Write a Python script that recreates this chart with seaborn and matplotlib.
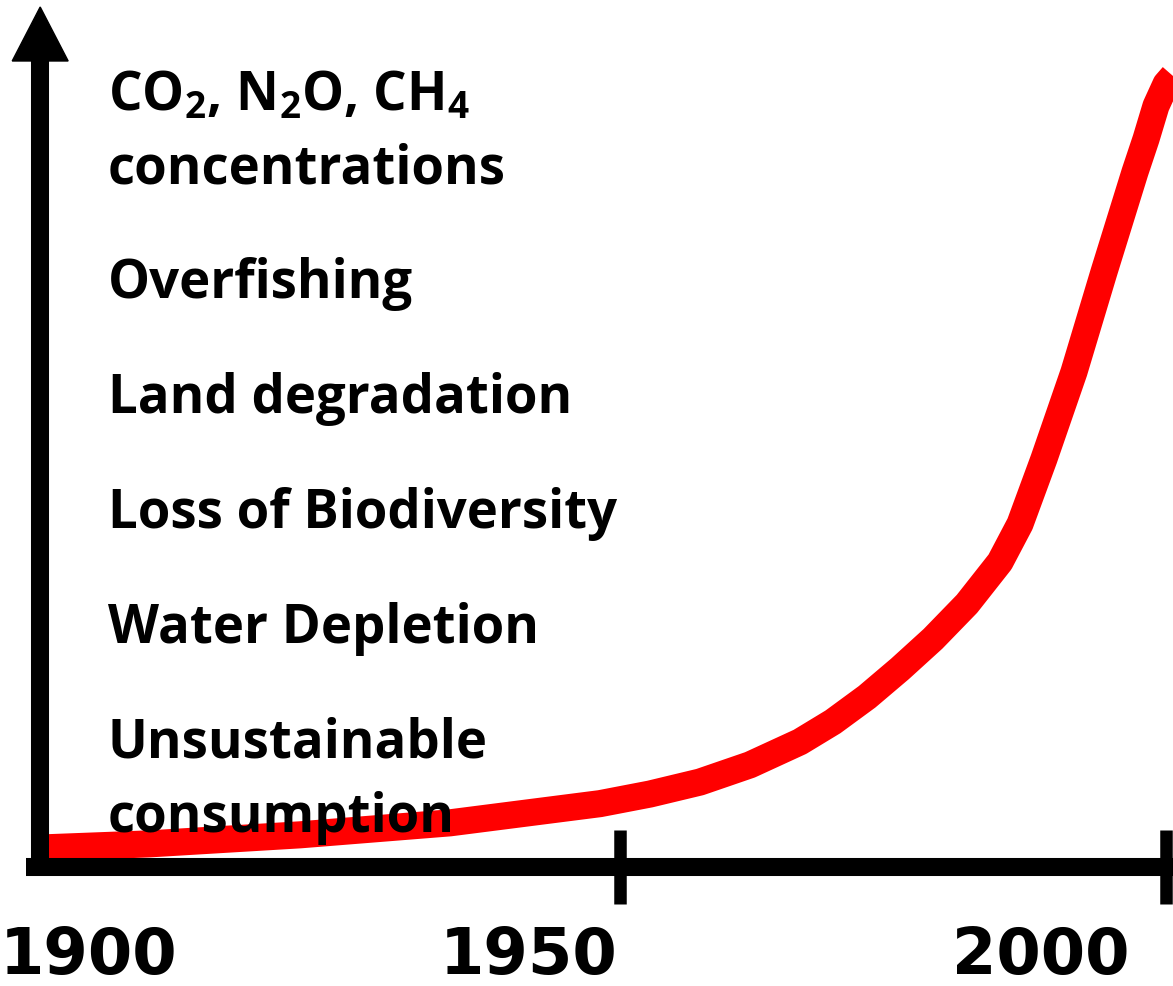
import matplotlib
matplotlib.use("Agg")
import matplotlib.pyplot as plt
import seaborn as sns
import pandas as pd
from matplotlib.patches import Polygon

# schematic "great acceleration" curve (index, x-axis sits at 0)
years = [1897.34, 1906.96, 1920.69, 1934.43, 1948.17, 1952.74, 1957.32, 1961.90,
         1966.48, 1969.50, 1972.62, 1975.64, 1978.66, 1981.77, 1984.80, 1986.63,
         1988.82, 1991.57, 1994.32, 1997.16, 1998.17, 1999.08, 2000.0, 2000.64]
index = [2.375, 2.875, 4.0, 5.5, 7.9, 9.1, 10.6, 12.75,
         15.625, 18.125, 21.25, 24.75, 28.5, 32.875, 38.125, 42.875,
         51.0, 61.875, 74.375, 86.875, 91.0, 95.125, 97.875, 98.875]

tick_years = [1950, 2000]
year_labels = ["1900", "1950", "2000"]
year_label_x = [1901.3, 1941.6, 1988.5]

pressures = [r"CO$_\mathbf{2}$, N$_\mathbf{2}$O, CH$_\mathbf{4}$", "concentrations",
             "Overfishing", "Land degradation", "Loss of Biodiversity",
             "Water Depletion", "Unsustainable", "consumption"]
pressure_y = [94.75, 85.6, 71.25, 56.9, 42.5, 28.1, 13.75, 4.5]

df = pd.DataFrame({"year": years, "index": index})

sns.set_style("white")
plt.rcParams["text.color"] = "black"
plt.rcParams["mathtext.fontset"] = "custom"
plt.rcParams["mathtext.bf"] = "Open Sans:bold"
plt.rcParams["mathtext.rm"] = "Open Sans:bold"

fig = plt.figure(figsize=(11.73, 9.87), dpi=100)
ax = fig.add_axes([0, 0, 1, 1])
ax.set_xlim(1893.22, 2000.64)
ax.set_ylim(-14.9, 108.5)

sns.lineplot(data=df, x="year", y="index", color="#ff0000", linewidth=19.5,
             estimator=None, sort=False, ax=ax)
ax.lines[0].set_solid_capstyle("butt")
ax.lines[0].set_solid_joinstyle("round")

# thick black axes
yaxis_x = 1896.9
for s in ["top", "right"]:
    ax.spines[s].set_visible(False)
ax.spines["left"].set_position(("data", yaxis_x))
ax.spines["left"].set_bounds(-0.2, 101)
ax.spines["bottom"].set_position(("data", 0))
ax.spines["bottom"].set_bounds(1895.6, 2001)
for s in ["left", "bottom"]:
    ax.spines[s].set_linewidth(13)
    ax.spines[s].set_color("black")
    ax.spines[s].set_capstyle("butt")
ax.set_yticks([])
ax.set_xticks(tick_years)
ax.tick_params(axis="x", direction="inout", length=53, width=9, color="black",
               labelbottom=False, bottom=True)
ax.set_xlabel("")
ax.set_ylabel("")

# arrow head on the y axis
ax.add_patch(Polygon([(yaxis_x - 2.56, 100.75), (yaxis_x + 2.56, 100.75),
                      (yaxis_x, 107.5)], closed=True, color="black",
                     clip_on=False))

for lab, xl in zip(year_labels, year_label_x):
    ax.text(xl, -13.25, lab, ha="center", va="baseline", fontsize=46,
            fontweight="bold", family="DejaVu Sans", color="black")

for txt, yv in zip(pressures, pressure_y):
    ax.text(1903.1, yv, txt, ha="left", va="baseline", fontsize=38,
            fontweight="bold", family=["Open Sans", "DejaVu Sans"], color="black")

fig.savefig("out.png", dpi=100)
